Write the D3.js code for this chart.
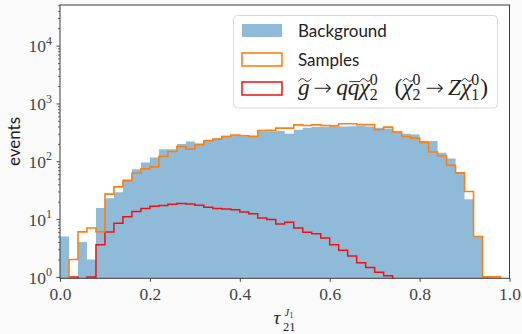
<!DOCTYPE html>
<html><head><meta charset="utf-8">
<script src="https://cdn.jsdelivr.net/npm/d3@7"></script>
<style>
html,body{margin:0;padding:0;background:#fafafa;}
svg{display:block;}
</style></head><body>
<svg id="chart" width="522" height="334"></svg>
<script>
// ---------------- data ----------------
const binStart = 0.0;
const binWidth = 0.02;
const background = [5,0,4,2,15.5,23,29,49,73,95,
  116,162,162,199,219,205,235,251,276,285,
  270,268,330,330,335,300,350,380,390,395,
  400,400,405,410,400,380,370,330,300,290,
  225,225,140,112,63,22,5,1,0,0];
const samples = [0,2,6,7,6,27,36,46,62,74,
  80,121,148,180,162,193,226,242,268,284,
  276,270,340,345,374,374,427,415,427,415,
  410,445,445,430,430,350,390,320,268,251,
  212,145,123,85,63,30,5,1,1,0];
const signal = [0,1,0,1,3.6,6,8.5,11,13.5,15.3,
  16.7,17.2,18,18.6,18.2,17.4,16,15.2,15,14.5,
  13.2,12.4,10.4,9.8,8.2,8.8,7,5.9,5.6,4.7,
  3.6,2.9,2.3,1.75,1.45,1.2,1.05,0,0,0,
  0,0,0,0,0,0,0,0,0,0];
const xTicks = [0.0,0.2,0.4,0.6,0.8,1.0];
const xTickLabels = ["0.0","0.2","0.4","0.6","0.8","1.0"];
const yTicks = [1,10,100,1000,10000];
const yTickExponents = ["0","1","2","3","4"];
const legendLabels = ["Background","Samples"];
const yLabel = "events";

// ---------------- layout ----------------
const svg = d3.select("#chart");
const P = {left:60, right:509.5, top:5, bottom:278.3};
const x = d3.scaleLinear().domain([0,1]).range([P.left, P.right]);
const y = d3.scaleLog().domain([0.945, 50500]).range([P.bottom, P.top]);
const serif = "'Liberation Serif','DejaVu Serif',serif";
const sans = "Lato,'Open Sans','DejaVu Sans',sans-serif";
const cBlue = "#1f77b4", cOrange = "#ff7f0e", cRed = "#f01010";

svg.append("rect").attr("x",0).attr("y",0).attr("width",522).attr("height",334).attr("fill","#fafafa");
svg.append("rect").attr("x",P.left).attr("y",P.top).attr("width",P.right-P.left).attr("height",P.bottom-P.top).attr("fill","#ffffff");

svg.append("clipPath").attr("id","clip").append("rect")
  .attr("x",P.left).attr("y",P.top).attr("width",P.right-P.left).attr("height",P.bottom-P.top);

const below = P.bottom + 6;
function stepPoints(vals){
  const pts = [[x(binStart), below]];
  vals.forEach((v,i)=>{
    const yy = v>0 ? y(v) : below;
    pts.push([x(binStart+i*binWidth), yy]);
    pts.push([x(binStart+(i+1)*binWidth), yy]);
  });
  pts.push([x(binStart+vals.length*binWidth), below]);
  return pts;
}
const line = d3.line();
const plot = svg.append("g").attr("clip-path","url(#clip)");
plot.append("path").attr("d", line(stepPoints(background))+"Z")
  .attr("fill",cBlue).attr("fill-opacity",0.5).attr("stroke","none");
plot.append("path").attr("d", line(stepPoints(signal)))
  .attr("fill","none").attr("stroke",cRed).attr("stroke-width",1.5);
plot.append("path").attr("d", line(stepPoints(samples)))
  .attr("fill","none").attr("stroke",cOrange).attr("stroke-width",1.6);

// ---------------- axes ----------------
const tickColor = "#444";
const xAxis = d3.axisBottom(x).tickValues(xTicks).tickSize(3.5).tickPadding(6.2)
  .tickFormat((d,i)=>xTickLabels[i]);
const gx = svg.append("g").attr("transform",`translate(0,${P.bottom})`).call(xAxis);
gx.select(".domain").remove();
gx.selectAll("line").attr("stroke",tickColor);
gx.selectAll("text").attr("font-family",serif).attr("font-size",17.5).attr("fill","#444");

const minor = [];
for (let e=0;e<5;e++) for (let m=2;m<10;m++){ const v=m*Math.pow(10,e); if(v<50500) minor.push(v); }
const gyMinor = svg.append("g").attr("transform",`translate(${P.left},0)`)
  .call(d3.axisLeft(y).tickValues(minor).tickSize(2).tickFormat(""));
gyMinor.select(".domain").remove();
gyMinor.selectAll("line").attr("stroke",tickColor).attr("stroke-width",0.8);

const gy = svg.append("g").attr("transform",`translate(${P.left},0)`)
  .call(d3.axisLeft(y).tickValues(yTicks).tickSize(3.5).tickPadding(4.5).tickFormat(""));
gy.select(".domain").remove();
gy.selectAll("line").attr("stroke",tickColor);
gy.selectAll(".tick").each(function(d,i){
  const t = d3.select(this).append("text").attr("x",-8).attr("y",6.2)
    .attr("text-anchor","end").attr("font-family",serif).attr("font-size",17.5).attr("fill","#444");
  t.append("tspan").text("10");
  t.append("tspan").attr("dy",-7.5).attr("font-size",12).text(yTickExponents[i]);
});

// frame
svg.append("rect").attr("x",P.left).attr("y",P.top).attr("width",P.right-P.left).attr("height",P.bottom-P.top)
  .attr("fill","none").attr("stroke","#3a3a3a").attr("stroke-width",1);

// axis labels
svg.append("text").attr("transform","translate(19.5,141.5) rotate(-90)")
  .attr("text-anchor","middle").attr("font-family",sans).attr("font-size",17).attr("fill","#222").text(yLabel);

const xl = svg.append("g");
xl.append("text").attr("x",273.5).attr("y",324).attr("font-family",serif).attr("font-style","italic")
  .attr("font-size",19).attr("fill","#222").text("τ");
xl.append("text").attr("x",283).attr("y",331).attr("font-family",serif)
  .attr("font-size",12.5).attr("fill","#222").text("21");
xl.append("text").attr("x",284.5).attr("y",315.5).attr("font-family",serif).attr("font-style","italic")
  .attr("font-size",10.5).attr("fill","#222").text("J");
xl.append("text").attr("x",289.5).attr("y",317.5).attr("font-family",serif)
  .attr("font-size",7.5).attr("fill","#222").text("1");

// ---------------- legend ----------------
const lg = svg.append("g");
lg.append("rect").attr("x",233.5).attr("y",15.5).attr("width",264).attr("height",92.5).attr("rx",4)
  .attr("fill","#ffffff").attr("fill-opacity",0.85).attr("stroke","#d8d8d8").attr("stroke-width",1);
const hx = 242, hw = 40, hh = 13;
const centers = [30.5, 59.5, 88.5];
lg.append("rect").attr("x",hx).attr("y",centers[0]-hh/2).attr("width",hw).attr("height",hh)
  .attr("fill",cBlue).attr("fill-opacity",0.5);
lg.append("rect").attr("x",hx).attr("y",centers[1]-hh/2).attr("width",hw).attr("height",hh)
  .attr("fill","none").attr("stroke",cOrange).attr("stroke-width",1.6);
lg.append("rect").attr("x",hx).attr("y",centers[2]-hh/2).attr("width",hw).attr("height",hh)
  .attr("fill","none").attr("stroke",cRed).attr("stroke-width",1.5);
legendLabels.forEach((s,i)=>{
  lg.append("text").attr("x",298).attr("y",centers[i]+6.2).attr("font-family",sans)
    .attr("font-size",17).attr("fill","#222").text(s);
});

// formula: g~ -> q qbar chi~_2^0  (chi~_2^0 -> Z chi~_1^0)
const pieces = [
  {t:"g", it:true, tilde:true},
  {t:"→", pad:3, arrow:true},
  {t:"q", it:true},
  {t:"q", it:true, bar:true},
  {t:"χ", it:true, tilde:true, sub:"2", sup:"0"},
  {space:12},
  {t:"("},
  {t:"χ", it:true, tilde:true, sub:"2", sup:"0"},
  {t:"→", pad:3, arrow:true},
  {t:"Z", it:true},
  {t:"χ", it:true, tilde:true, sub:"1", sup:"0"},
  {t:")"}
];
function layoutFormula(g, x0, base, F){
  let cx = x0;
  pieces.forEach(p=>{
    if (p.space){ cx += p.space*F/18; return; }
    cx += (p.pad||0)*F/18;
    const t = g.append("text").attr("x",cx).attr("y",base)
      .attr("font-family", p.arrow ? "'DejaVu Sans',sans-serif" : serif)
      .attr("font-size", p.arrow ? F*0.95 : F).attr("font-style",p.it?"italic":"normal")
      .attr("font-weight", p.arrow ? 300 : 400).attr("fill","#222").text(p.t);
    const w = t.node().getComputedTextLength();
    if (p.tilde){
      const x1 = cx + 0.5, x2 = cx + w + 1.5, yy = base - 0.62*F, a = 0.1*F;
      const wm = (x2-x1);
      g.append("path").attr("d",
        `M${x1},${yy+a*0.6} Q${x1+wm*0.25},${yy-a*1.4} ${x1+wm*0.5},${yy} T${x2},${yy-a*0.6}`)
        .attr("fill","none").attr("stroke","#222").attr("stroke-width",0.9);
    }
    if (p.bar){
      g.append("line").attr("x1",cx+1.5).attr("x2",cx+w+0.5)
        .attr("y1",base-0.55*F).attr("y2",base-0.55*F).attr("stroke","#222").attr("stroke-width",0.9);
    }
    cx += w;
    if (p.sub || p.sup){
      const s1 = g.append("text").attr("x",cx).attr("y",base+0.25*F).attr("font-family",serif)
        .attr("font-size",0.68*F).attr("fill","#222").text(p.sub);
      const s2 = g.append("text").attr("x",cx).attr("y",base-0.42*F).attr("font-family",serif)
        .attr("font-size",0.68*F).attr("fill","#222").text(p.sup);
      cx += Math.max(s1.node().getComputedTextLength(), s2.node().getComputedTextLength()) + 1;
    }
    cx += (p.pad||0)*F/18;
  });
  return cx - x0;
}
let F = 18;
let fg = lg.append("g");
const wTot = layoutFormula(fg, 298, centers[2]+6, F);
fg.remove();
F = F * 191 / wTot;
fg = lg.append("g");
layoutFormula(fg, 298, centers[2]+6, F);
</script>
</body></html>
